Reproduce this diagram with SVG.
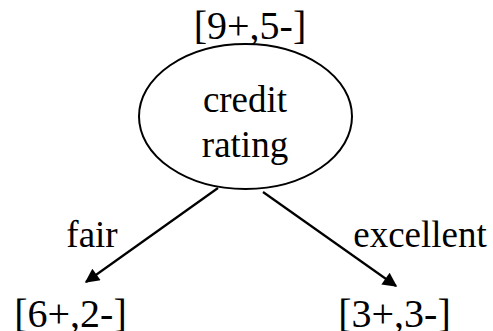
<svg xmlns="http://www.w3.org/2000/svg" width="493" height="331" viewBox="0 0 493 331">
<defs>
<style>
text{font-family:"Liberation Serif","Times New Roman",serif;fill:#000}
.lbl{font-size:37px}
.cnt{font-size:40px}
.edge{stroke:#000;stroke-width:2.2;fill:none;marker-end:url(#ah)}
</style>
<marker id="ah" viewBox="0 0 10 10" refX="9" refY="5" markerWidth="8" markerHeight="6.5" markerUnits="strokeWidth" orient="auto">
<path d="M0,0 L10,5 L0,10 z" fill="#000"/>
</marker>
</defs>
<rect width="493" height="331" fill="#fff"/>
<g id="root">
<text class="cnt" x="250" y="39" text-anchor="middle">[9+,5-]</text>
<ellipse cx="245.5" cy="116.5" rx="106.5" ry="72.5" fill="#fff" stroke="#000" stroke-width="2"/>
<text class="lbl" x="245" y="112" text-anchor="middle">credit</text>
<text class="lbl" x="245" y="157" text-anchor="middle">rating</text>
</g>
<g id="leaf-fair">
<text class="cnt" x="70.5" y="327" text-anchor="middle">[6+,2-]</text>
</g>
<g id="leaf-excellent">
<text class="cnt" x="394.5" y="327" text-anchor="middle">[3+,3-]</text>
</g>
<g id="connectors">
<line class="edge" x1="218" y1="188" x2="86" y2="282"/>
<line class="edge" x1="263" y1="192" x2="396" y2="286"/>
<text class="lbl" x="92" y="247" text-anchor="middle">fair</text>
<text class="lbl" x="420" y="247" text-anchor="middle">excellent</text>
</g>
</svg>
